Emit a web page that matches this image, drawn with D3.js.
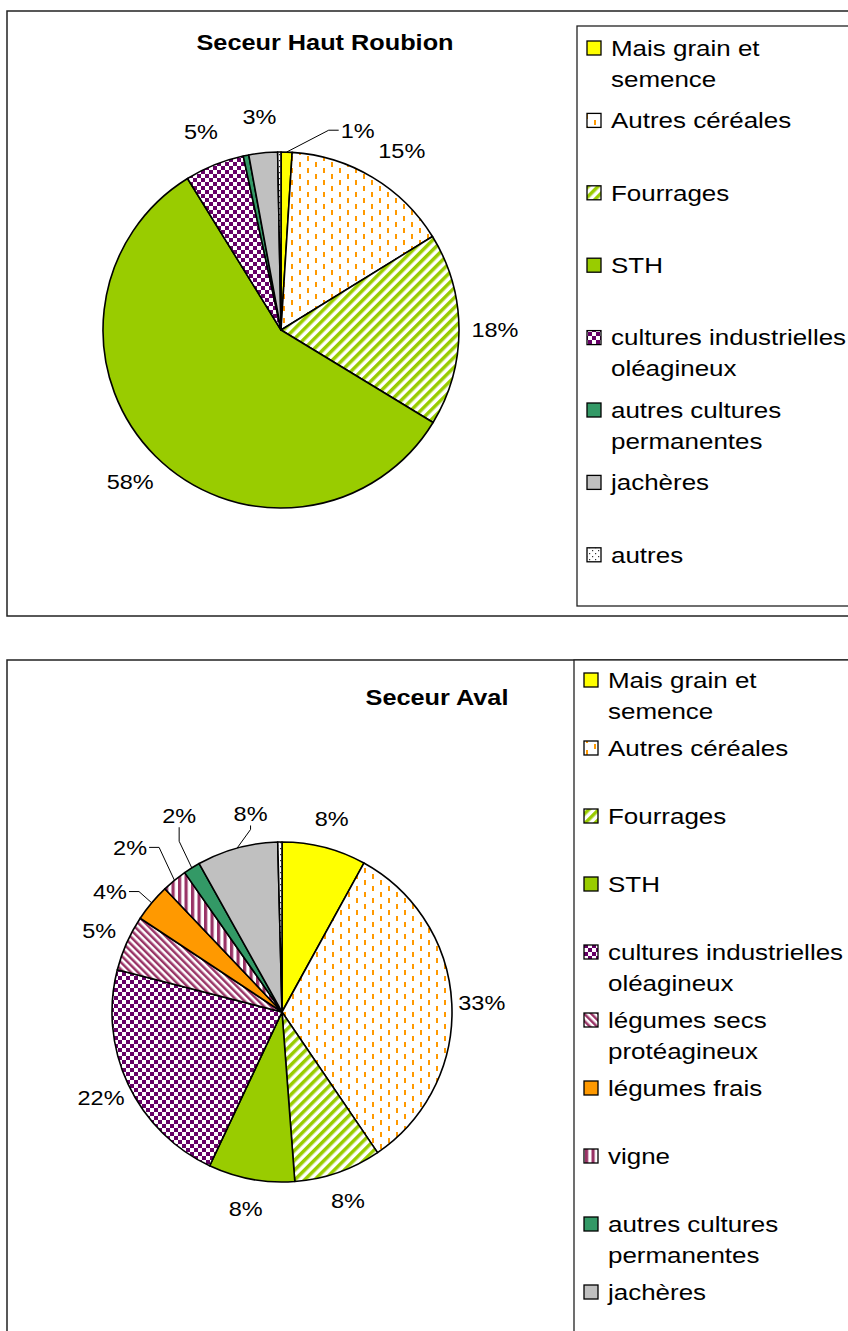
<!DOCTYPE html>
<html>
<head>
<meta charset="utf-8">
<script src="https://cdn.jsdelivr.net/npm/d3@7"></script>
<style>
  body { margin: 0; background: #fff; }
  text { font-family: "Liberation Sans", Arial, sans-serif; fill: #000; }
</style>
</head>
<body>
<script>

// ---- data ----
let categoriesHaut = ['Mais grain et\nsemence', 'Autres céréales', 'Fourrages', 'STH',
                      'cultures industrielles\noléagineux', 'autres cultures\npermanentes',
                      'jachères', 'autres'];
let valuesHaut = [1.0, 15.2, 17.5, 57.5, 5.4, 0.5, 2.6, 0.3];

let categoriesAval = ['Mais grain et\nsemence', 'Autres céréales', 'Fourrages', 'STH',
                      'cultures industrielles\noléagineux', 'légumes secs\nprotéagineux',
                      'légumes frais', 'vigne', 'autres cultures\npermanentes', 'jachères', 'autres'];
let valuesAval = [8.0, 32.5, 8.3, 8.2, 22.0, 5.3, 3.6, 2.4, 1.6, 7.7, 0.4];

let titles = ['Seceur Haut Roubion', 'Seceur Aval'];

// ---- styles ----
let fills = {
  'Mais grain et\nsemence': '#ffff00',
  'Autres céréales': 'url(#pCereales)',
  'Fourrages': 'url(#pFourrages)',
  'STH': '#99cc00',
  'cultures industrielles\noléagineux': 'url(#pCheck)',
  'autres cultures\npermanentes': '#339966',
  'jachères': '#c0c0c0',
  'autres': 'url(#pDots)',
  'légumes secs\nprotéagineux': 'url(#pSecs)',
  'légumes frais': '#ff9900',
  'vigne': 'url(#pVigne)'
};

let W = 848, H = 1331;

let svg = d3.select('body').append('svg')
            .attr('width', W)
            .attr('height', H);

let defs = svg.append('defs');

function pattern(id, w, h, transform) {
  let p = defs.append('pattern')
              .attr('id', id)
              .attr('patternUnits', 'userSpaceOnUse')
              .attr('width', w)
              .attr('height', h);
  if (transform) p.attr('patternTransform', transform);
  p.append('rect').attr('width', w).attr('height', h).attr('fill', '#fff');
  return p;
}

let pc = pattern('pCereales', 16, 12);
pc.append('rect').attr('x', 2).attr('y', 0).attr('width', 2).attr('height', 5).attr('fill', '#ff9900');
pc.append('rect').attr('x', 10).attr('y', 6).attr('width', 2).attr('height', 5).attr('fill', '#ff9900');

let pf = pattern('pFourrages', 7, 7, 'rotate(45)');
pf.append('rect').attr('width', 3.5).attr('height', 7).attr('fill', '#99cc00');

let pk = pattern('pCheck', 8, 8);
pk.append('rect').attr('width', 4).attr('height', 4).attr('fill', '#660066');
pk.append('rect').attr('x', 4).attr('y', 4).attr('width', 4).attr('height', 4).attr('fill', '#660066');

let pd = pattern('pDots', 6, 6);
pd.append('rect').attr('x', 1).attr('y', 1).attr('width', 1.2).attr('height', 1.2).attr('fill', '#333');
pd.append('rect').attr('x', 4).attr('y', 4).attr('width', 1.2).attr('height', 1.2).attr('fill', '#333');

let ps = pattern('pSecs', 5, 5, 'rotate(-45)');
ps.append('rect').attr('width', 2.5).attr('height', 5).attr('fill', '#993366');

let pv = pattern('pVigne', 6.5, 6.5);
pv.append('rect').attr('width', 3.2).attr('height', 6.5).attr('fill', '#993366');

function addText(g, str, x, y, size, sx, anchor, weight) {
  return g.append('text')
          .attr('transform', 'translate(' + x + ',' + y + ') scale(' + sx + ',1)')
          .attr('text-anchor', anchor || 'start')
          .attr('dy', '0.35em')
          .style('font-size', size + 'px')
          .style('font-weight', weight || 'normal')
          .text(str);
}

function pieChart(cfg) {
  let g = svg.append('g');

  // outer frame
  g.append('rect')
   .attr('x', cfg.frame[0]).attr('y', cfg.frame[1])
   .attr('width', cfg.frame[2]).attr('height', cfg.frame[3])
   .attr('fill', 'none').attr('stroke', '#222').attr('stroke-width', 1.5);

  addText(g, cfg.title, cfg.titlePos[0], cfg.titlePos[1], 22, 1.15, 'middle', 'bold');

  let data = cfg.categories.map((c, i) => ({ cat: c, value: cfg.values[i] }));

  let pie = d3.pie().sort(null).value(d => d.value);
  let arc = d3.arc().innerRadius(0).outerRadius(cfg.r);
  let arcs = pie(data);

  let pg = g.append('g').attr('transform', 'translate(' + cfg.cx + ',' + cfg.cy + ')');

  pg.selectAll('path')
    .data(arcs)
    .join('path')
    .attr('d', arc)
    .attr('fill', d => fills[d.data.cat])
    .attr('stroke', '#000')
    .attr('stroke-width', 1.6)
    .attr('stroke-linejoin', 'round');

  // percentage labels
  arcs.forEach(function(d) {
    if (d.data.value < 0.95) return;
    let mid = (d.startAngle + d.endAngle) / 2;
    let nudge = cfg.nudges[d.data.cat];
    let ang = nudge ? nudge.angle * Math.PI / 180 : mid;
    let dist = nudge ? nudge.dist : cfg.labelR;
    let lx = Math.sin(ang) * dist;
    let ly = -Math.cos(ang) * dist;
    let t = addText(pg, Math.round(d.data.value) + '%', lx, ly, 21, 1.12, 'middle');
    if (nudge && nudge.attach) {
      let hw = t.node().getComputedTextLength() * 1.12 / 2;
      let p0 = [Math.sin(mid) * cfg.r, -Math.cos(mid) * cfg.r];
      let p1, p2;
      if (nudge.attach == 'left') {
        p2 = [lx - hw - 2, ly];
        p1 = [p2[0] - 10, ly];
      } else if (nudge.attach == 'right') {
        p2 = [lx + hw + 2, ly];
        p1 = [p2[0] + 10, ly];
      } else {
        p2 = [lx, ly + 12];
        p1 = [lx, ly + 12 + nudge.drop];
      }
      pg.append('path')
        .attr('d', d3.line()([p0, p1, p2]))
        .attr('fill', 'none')
        .attr('stroke', '#000')
        .attr('stroke-width', 1);
    }
  });

  // legend
  let lg = g.append('g');
  lg.append('rect')
    .attr('x', cfg.legend.x).attr('y', cfg.legend.y)
    .attr('width', cfg.legend.w).attr('height', cfg.legend.h)
    .attr('fill', '#fff').attr('stroke', '#222').attr('stroke-width', 1.3);

  data.forEach(function(d, i) {
    let y = cfg.legend.first + i * cfg.legend.step;
    if (y > H) return; // entry falls below the visible page
    lg.append('rect')
      .attr('x', cfg.legend.x + 10).attr('y', y - 7)
      .attr('width', 14).attr('height', 14)
      .attr('fill', fills[d.cat])
      .attr('stroke', '#000').attr('stroke-width', 1.3);
    d.cat.split('\n').forEach(function(line, j) {
      addText(lg, line, cfg.legend.x + 34, y + j * 31, 22, 1.18, 'start');
    });
  });
}

pieChart({
  title: titles[0],
  titlePos: [325, 42],
  frame: [7, 11, 860, 605],
  cx: 281, cy: 330, r: 178, labelR: 214,
  categories: categoriesHaut,
  values: valuesHaut,
  nudges: {
    'Mais grain et\nsemence': { angle: 21, dist: 214, attach: 'left' },
    'Autres céréales': { angle: 34, dist: 216 }
  },
  legend: { x: 577, y: 26, w: 290, h: 580, first: 48, step: 72.4 }
});

pieChart({
  title: titles[1],
  titlePos: [437, 697],
  frame: [7, 660, 860, 700],
  cx: 282, cy: 1012, r: 170, labelR: 200,
  categories: categoriesAval,
  values: valuesAval,
  nudges: {
    'légumes frais': { angle: 305, dist: 210, attach: 'right' },
    'vigne': { angle: 317.3, dist: 224, attach: 'right' },
    'autres cultures\npermanentes': { angle: 332.4, dist: 222, attach: 'bottom', drop: 14 },
    'jachères': { angle: 351, dist: 201, attach: 'bottom', drop: 4 }
  },
  legend: { x: 574, y: 660, w: 290, h: 700, first: 680, step: 68 }
});

</script>
</body>
</html>
